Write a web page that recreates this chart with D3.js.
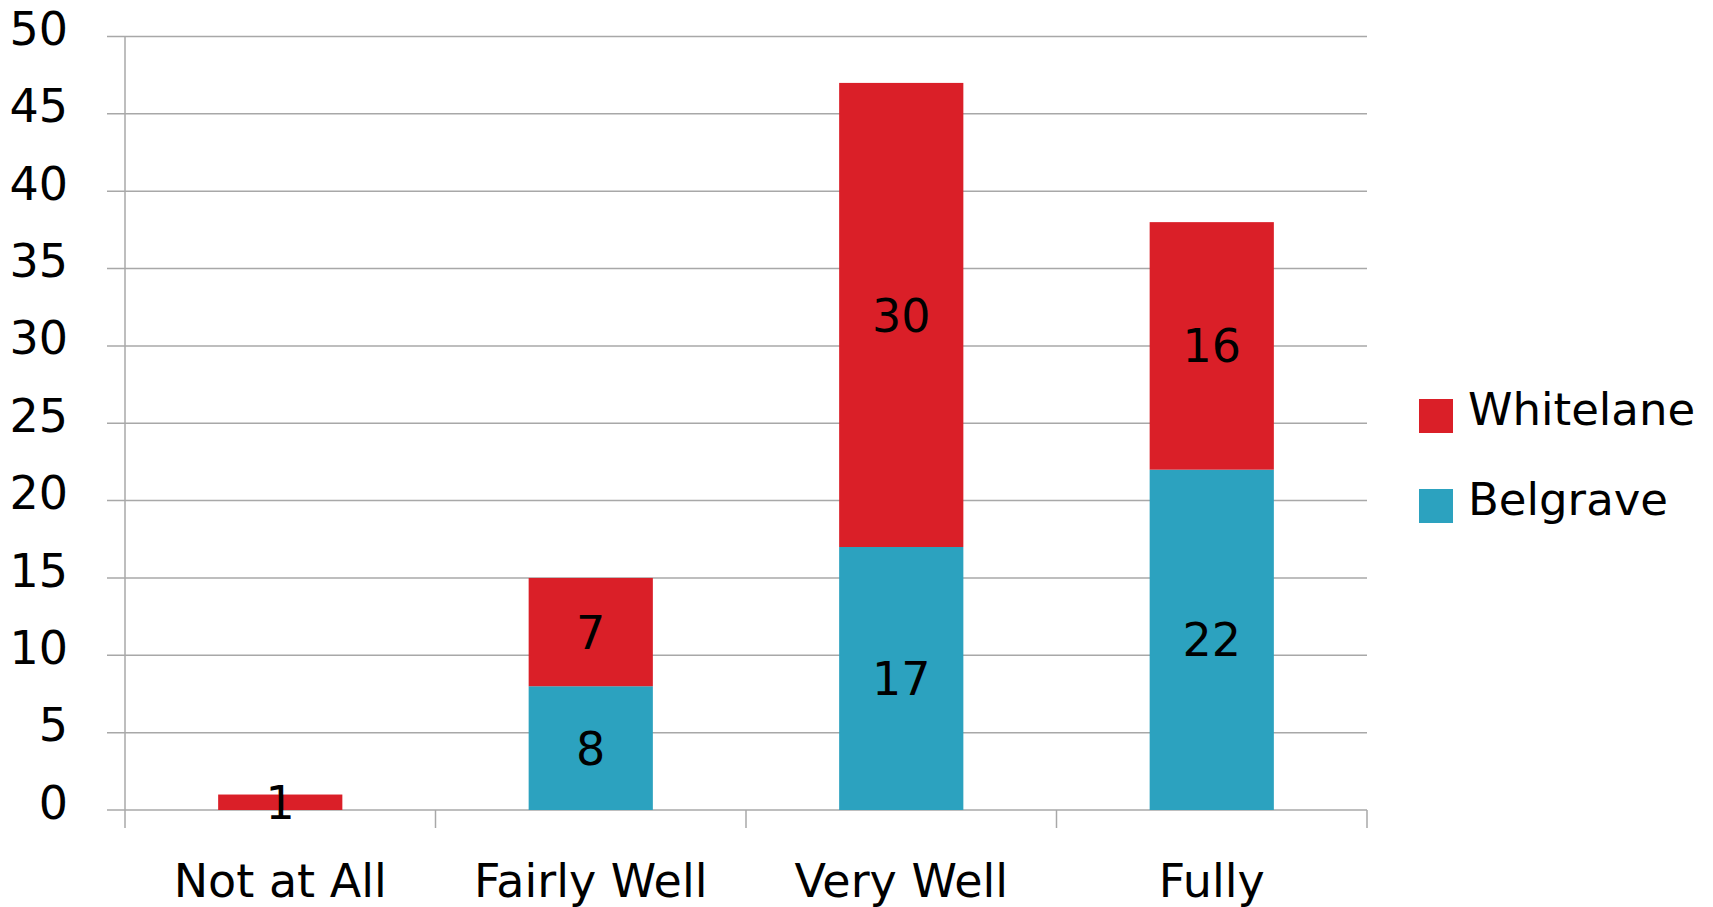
<!DOCTYPE html>
<html>
<head>
<meta charset="utf-8">
<script src="https://cdn.jsdelivr.net/npm/d3@7"></script>
<style>
  html, body { margin: 0; padding: 0; background: #fff; }
  svg { display: block; font-family: "DejaVu Sans", sans-serif; }
</style>
</head>
<body>
<svg id="chart" width="1713" height="907"></svg>
<script>
// Survey responses per category, stacked by school
const categories = ["Not at All", "Fairly Well", "Very Well", "Fully"];
const belgrave = [0, 8, 17, 22];
const whitelane = [1, 7, 30, 16];
const seriesNames = ["Belgrave", "Whitelane"];
const seriesColors = ["#2CA2BF", "#DA1F28"];
const yTicks = [0, 5, 10, 15, 20, 25, 30, 35, 40, 45, 50];

(function () {
  const svg = d3.select("#chart");
  const plotLeft = 125, plotRight = 1367, plotTop = 36.5, plotBottom = 810;

  const x = d3.scaleBand().domain(categories).range([plotLeft, plotRight]).paddingInner(0).paddingOuter(0);
  const y = d3.scaleLinear().domain([0, 50]).range([plotBottom, plotTop]);

  const gridColor = "#a8a8a8";

  // horizontal gridlines, extending left past the axis as tick marks
  svg.append("g").selectAll("line").data(yTicks).join("line")
    .attr("x1", plotLeft - 18).attr("x2", plotRight)
    .attr("y1", d => y(d)).attr("y2", d => y(d))
    .attr("stroke", gridColor).attr("stroke-width", 1.5);

  // y axis line
  svg.append("line")
    .attr("x1", plotLeft).attr("x2", plotLeft)
    .attr("y1", plotTop).attr("y2", plotBottom + 18)
    .attr("stroke", gridColor).attr("stroke-width", 1.5);

  // category separator ticks below the baseline
  const sepX = categories.map(c => x(c)).concat([plotRight]);
  svg.append("g").selectAll("line").data(sepX.slice(1)).join("line")
    .attr("x1", d => d).attr("x2", d => d)
    .attr("y1", plotBottom).attr("y2", plotBottom + 18)
    .attr("stroke", gridColor).attr("stroke-width", 1.5);

  // y tick labels
  svg.append("g").selectAll("text").data(yTicks).join("text")
    .attr("x", 68).attr("y", d => y(d) - 8)
    .attr("dy", "0.36em")
    .attr("text-anchor", "end")
    .attr("font-size", 46)
    .attr("fill", "#000")
    .text(d => d);

  // stacked bars
  const rows = categories.map((c, i) => ({ cat: c, Belgrave: belgrave[i], Whitelane: whitelane[i] }));
  const stack = d3.stack().keys(seriesNames)(rows);
  const barW = x.bandwidth() * 0.4;

  stack.forEach((layer, li) => {
    const g = svg.append("g");
    g.selectAll("rect").data(layer).join("rect")
      .attr("x", d => x(d.data.cat) + (x.bandwidth() - barW) / 2)
      .attr("width", barW)
      .attr("y", d => y(d[1]))
      .attr("height", d => y(d[0]) - y(d[1]))
      .attr("fill", seriesColors[li]);
  });

  // value labels centred in each segment
  stack.forEach(layer => {
    svg.append("g").selectAll("text").data(layer.filter(d => d[1] - d[0] > 0)).join("text")
      .attr("x", d => x(d.data.cat) + x.bandwidth() / 2)
      .attr("y", d => y((d[0] + d[1]) / 2))
      .attr("dy", "0.36em")
      .attr("text-anchor", "middle")
      .attr("font-size", 46)
      .attr("fill", "#000")
      .text(d => d[1] - d[0]);
  });

  // category labels
  svg.append("g").selectAll("text").data(categories).join("text")
    .attr("x", d => x(d) + x.bandwidth() / 2)
    .attr("y", 897)
    .attr("text-anchor", "middle")
    .attr("font-size", 46)
    .attr("fill", "#000")
    .text(d => d);

  // legend: Whitelane above Belgrave
  const legend = [
    { name: "Whitelane", color: seriesColors[1], y: 399 },
    { name: "Belgrave", color: seriesColors[0], y: 489 }
  ];
  const lg = svg.append("g").selectAll("g").data(legend).join("g");
  lg.append("rect")
    .attr("x", 1419).attr("y", d => d.y)
    .attr("width", 34).attr("height", 34)
    .attr("fill", d => d.color);
  lg.append("text")
    .attr("x", 1468).attr("y", d => d.y + 26)
    .attr("font-size", 45)
    .attr("fill", "#000")
    .text(d => d.name);
})();
</script>
</body>
</html>
